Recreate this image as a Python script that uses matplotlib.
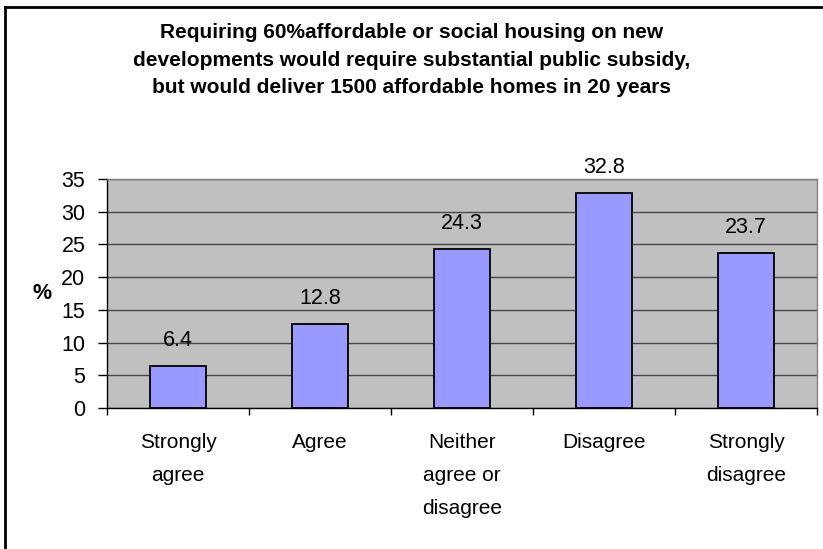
import numpy as np
import matplotlib
matplotlib.use('Agg')
import matplotlib.pyplot as plt
from matplotlib.lines import Line2D

# Survey responses (% of respondents)
categories = ["Strongly\nagree", "Agree", "Neither\nagree or\ndisagree",
              "Disagree", "Strongly\ndisagree"]
percent = [6.4, 12.8, 24.3, 32.8, 23.7]
yticks = [0, 5, 10, 15, 20, 25, 30, 35]

title = ("Requiring 60%affordable or social housing on new\n"
         "developments would require substantial public subsidy,\n"
         "but would deliver 1500 affordable homes in 20 years")

plt.rcParams['font.family'] = ['Liberation Sans', 'DejaVu Sans']

fig = plt.figure(figsize=(8.23, 5.49), dpi=100)
ax = fig.add_axes([107/823, 1 - 408/549, 710/823, 229/549])

x = np.arange(len(categories))
ax.bar(x, percent, width=0.4, color='#9999FF', edgecolor='black',
       linewidth=1.3, zorder=3)

for xi, v in zip(x, percent):
    ax.annotate(f"{v}", (xi, v), xytext=(0, 11), textcoords='offset points',
                ha='center', va='bottom', fontsize=15.5)

ax.set_xlim(-0.5, len(categories) - 0.5)
ax.set_ylim(0, 35)
ax.set_yticks(yticks)
ax.set_facecolor('#C0C0C0')
ax.yaxis.grid(True, color='#484848', linewidth=1.0, zorder=0)
ax.set_axisbelow(True)

# tick marks between categories, labels centred under bars
ax.set_xticks(np.arange(len(categories) + 1) - 0.5)
ax.set_xticklabels([])
ax.set_xticks(x, minor=True)
ax.set_xticklabels(categories, minor=True, fontsize=15, linespacing=1.95)
ax.tick_params(axis='x', which='minor', length=0, pad=18)
ax.tick_params(axis='x', which='major', length=5, direction='out', width=1)
ax.tick_params(axis='y', length=6.5, direction='out', width=1,
               labelsize=15.5, pad=9)

for s in ['top', 'right']:
    ax.spines[s].set_color('#808080')
    ax.spines[s].set_linewidth(1.0)
for s in ['left', 'bottom']:
    ax.spines[s].set_color('black')
    ax.spines[s].set_linewidth(1.0)

ax.set_ylabel('%', rotation=0, fontsize=15.5, fontweight='bold',
              labelpad=14, va='center')

fig.text(0.5, 1 - 60/549, title, ha='center', va='center', fontsize=15,
         fontweight='bold', linespacing=1.55)

# chart frame
fig.add_artist(Line2D([5/823, 1.0], [1 - 7/549, 1 - 7/549], color='black',
                      linewidth=2, transform=fig.transFigure))
fig.add_artist(Line2D([5/823, 5/823], [1 - 7/549, 0.0], color='black',
                      linewidth=2, transform=fig.transFigure))

fig.savefig('out.png', dpi=100)
